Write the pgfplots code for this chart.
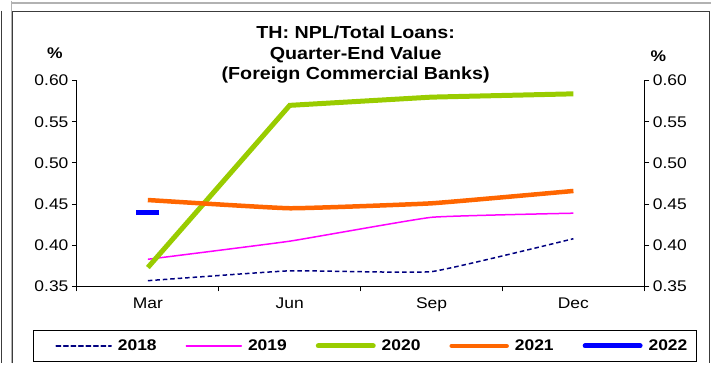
\documentclass[border=0pt]{standalone}
\usepackage{pgfplots}
\pgfplotsset{compat=1.18}
\usepackage{fontspec}
\setmainfont{Liberation Sans}[FakeStretch=1.13]
\definecolor{c18}{RGB}{0,0,128}
\definecolor{c19}{RGB}{255,0,255}
\definecolor{c20}{RGB}{153,204,0}
\definecolor{c21}{RGB}{255,102,0}
\definecolor{c22}{RGB}{0,0,255}
\definecolor{frm}{RGB}{60,60,60}

\begin{document}
\begin{tikzpicture}[x=1bp,y=1bp]
\path (0,0) rectangle (712,363);
% frames
\draw[gray!60, line width=1.5bp] (11.5,363) -- (11.5,0);
\draw[gray!60, line width=1.5bp] (11.5,360.5) -- (712,360.5);
\draw[frm, line width=1bp] (1.5,353) -- (1.5,0);
\draw[frm, line width=1.2bp] (12.8,0) -- (12.8,352.6) -- (710.4,352.6) -- (710.4,0);
% legend box
\draw[black, line width=1bp] (34,2) rectangle (697,33);
% title and unit labels
\node[font=\bfseries\fontsize{17.5}{20.5}\selectfont, align=center] at (356,309) {TH: NPL/Total Loans:\\Quarter-End Value\\(Foreign Commercial Banks)};
\node[font=\bfseries\fontsize{15.5}{18}\selectfont] at (55,311) {\%};
\node[font=\bfseries\fontsize{15.5}{18}\selectfont] at (659,307) {\%};

\begin{axis}[
  at={(77bp,77bp)}, anchor=south west, scale only axis,
  width=568bp, height=206bp,
  xmin=-0.5, xmax=3.5, ymin=0.35, ymax=0.60,
  axis x line*=bottom, axis y line*=left,
  x axis line style={-, line width=1bp}, y axis line style={-, line width=1bp},
  tick align=outside, major tick length=5bp,
  tick style={black, line width=1bp},
  xtick={0,1,2,3}, xticklabels={Mar,Jun,Sep,Dec},
  major x tick style={draw=none},
  extra x ticks={-0.5,0.5,1.5,2.5,3.5}, extra x tick labels={},
  extra x tick style={major x tick style={draw=black, line width=1bp}},
  ytick={0.35,0.40,0.45,0.50,0.55,0.60},
  yticklabel style={/pgf/number format/.cd, fixed, fixed zerofill, precision=2, assume math mode=true},
  ticklabel style={font=\fontsize{15.5}{18}\selectfont},
  xticklabel style={yshift=-3bp},
  legend image code/.code={\draw[#1, line cap=round] (0bp,0bp) -- (55bp,0bp);},
  legend columns=5,
  legend style={at={(axis description cs:0.519,-0.289)}, anchor=center, draw=none, fill=none,
    font=\bfseries\fontsize{15.5}{18}\selectfont,
    nodes={inner sep=0pt},
    /tikz/every even column/.append style={column sep=29bp},
    /tikz/every odd column/.append style={column sep=6bp}},
]
\addplot[c18, line width=1.5bp, dash pattern=on 4.5bp off 3bp, smooth, tension=0.2] coordinates {(0,0.357)(1,0.369)(2,0.368)(3,0.408)};
\addplot[c19, line width=1.5bp, smooth, tension=0.2] coordinates {(0,0.383)(1,0.405)(2,0.434)(3,0.439)};
\addplot[c20, line width=5bp] coordinates {(0,0.373)(1,0.570)(2,0.580)(3,0.584)};
\addplot[c21, line width=4.5bp, smooth, tension=0.2] coordinates {(0,0.455)(1,0.445)(2,0.451)(3,0.466)};
\addplot[c22, mark=-, mark size=11.5bp, mark options={solid, line width=5bp},
  legend image code/.code={\draw[c22, line width=5bp, line cap=round] (0bp,0bp) -- (55bp,0bp);}]
  coordinates {(0,0.44)};
\legend{2018,2019,2020,2021,2022}
\end{axis}

\begin{axis}[
  at={(77bp,77bp)}, anchor=south west, scale only axis,
  width=568bp, height=206bp,
  xmin=-0.5, xmax=3.5, ymin=0.35, ymax=0.60,
  axis x line=none, axis y line*=right,
  y axis line style={-, line width=1bp},
  tick align=outside, major tick length=5bp,
  tick style={black, line width=1bp},
  ytick={0.35,0.40,0.45,0.50,0.55,0.60},
  yticklabel style={/pgf/number format/.cd, fixed, fixed zerofill, precision=2, assume math mode=true},
  ticklabel style={font=\fontsize{15.5}{18}\selectfont},
]
\end{axis}
\end{tikzpicture}
\end{document}
